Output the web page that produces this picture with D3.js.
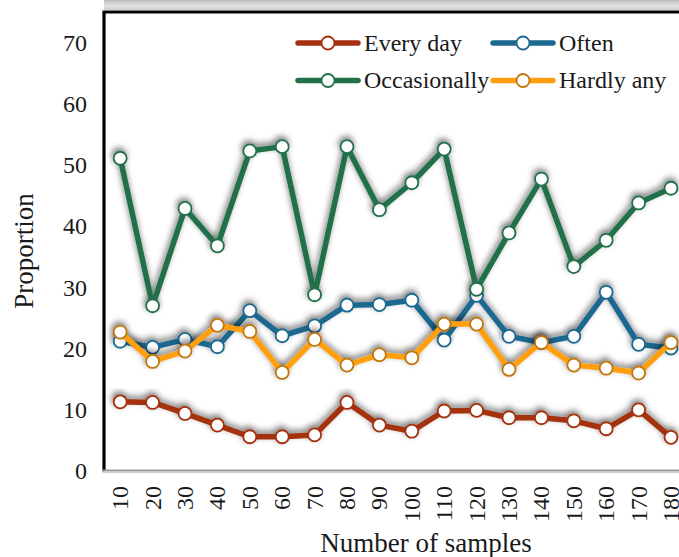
<!DOCTYPE html>
<html>
<head>
<meta charset="utf-8">
<script src="https://cdn.jsdelivr.net/npm/d3@7"></script>
<style>
  html, body { margin: 0; padding: 0; background: #fff; }
  svg { display: block; font-family: "Liberation Serif", "Times New Roman", serif; }
</style>
</head>
<body>
<svg id="chart" width="679" height="557"></svg>
<script>
// Sample sizes on the x axis
const categories = [10, 20, 30, 40, 50, 60, 70, 80, 90, 100, 110, 120, 130, 140, 150, 160, 170, 180];

// Proportion (%) for each usage frequency
const everyDay     = [11.3, 11.2, 9.4, 7.5, 5.6, 5.6, 5.9, 11.2, 7.5, 6.5, 9.8, 9.9, 8.7, 8.7, 8.2, 6.9, 10.0, 5.5];
const often        = [21.2, 20.2, 21.5, 20.3, 26.2, 22.1, 23.7, 27.1, 27.2, 27.9, 21.4, 28.7, 22.0, 21.0, 22.0, 29.2, 20.7, 20.1];
const occasionally = [51.1, 27.0, 42.9, 36.8, 52.3, 53.0, 28.8, 53.0, 42.7, 47.1, 52.6, 29.7, 38.9, 47.7, 33.4, 37.7, 43.8, 46.2];
const hardlyAny    = [22.7, 17.9, 19.6, 23.8, 22.8, 16.1, 21.5, 17.3, 19.0, 18.5, 24.0, 24.0, 16.6, 21.0, 17.3, 16.8, 16.0, 21.0];

const yTicks = [0, 10, 20, 30, 40, 50, 60, 70];

const seriesNames  = ["Every day", "Often", "Occasionally", "Hardly any"];
const seriesValues = [everyDay, often, occasionally, hardlyAny];
const lineColors   = ["#A3300F", "#1C6890", "#22704A", "#FF9F0F"];
const markerColors = ["#A3300F", "#1C6890", "#22704A", "#C0760C"];

const svg = d3.select("#chart");

const plotLeft = 104, plotTop = 12, plotBottom = 471;
const bandStep = 32.4;

const x = d3.scaleBand()
  .domain(categories)
  .range([plotLeft, plotLeft + bandStep * categories.length])
  .paddingInner(0).paddingOuter(0);

const y = d3.scaleLinear().domain([0, 75]).range([plotBottom, plotTop]);

const cx = d => x(d) + x.bandwidth() / 2;

// Filters and gradients
const defs = svg.append("defs");
const shadow = defs.append("filter").attr("id", "shadow")
  .attr("x", "-10%").attr("y", "-15%").attr("width", "120%").attr("height", "130%");
shadow.append("feDropShadow")
  .attr("dx", -1).attr("dy", -3).attr("stdDeviation", 3)
  .attr("flood-color", "#000").attr("flood-opacity", 0.55);

const topGrad = defs.append("linearGradient").attr("id", "topGrad")
  .attr("x1", 0).attr("y1", 0).attr("x2", 0).attr("y2", 1);
topGrad.append("stop").attr("offset", "0%").attr("stop-color", "#bdbdbd");
topGrad.append("stop").attr("offset", "60%").attr("stop-color", "#e2e2e2");
topGrad.append("stop").attr("offset", "100%").attr("stop-color", "#cfcfcf");

// Shading band above the plot frame
svg.append("rect")
  .attr("x", plotLeft).attr("y", 0)
  .attr("width", 679 - plotLeft).attr("height", plotTop - 2)
  .attr("fill", "url(#topGrad)");

// Plot frame
svg.append("line")
  .attr("x1", plotLeft - 1.5).attr("x2", 679)
  .attr("y1", plotTop).attr("y2", plotTop)
  .attr("stroke", "#000").attr("stroke-width", 3);
svg.append("line")
  .attr("x1", plotLeft).attr("x2", plotLeft)
  .attr("y1", plotTop).attr("y2", plotBottom)
  .attr("stroke", "#000").attr("stroke-width", 3.2);
svg.append("line")
  .attr("x1", plotLeft - 1.5).attr("x2", 679)
  .attr("y1", plotBottom).attr("y2", plotBottom)
  .attr("stroke", "#9a9a9a").attr("stroke-width", 3);
svg.append("line")
  .attr("x1", plotLeft).attr("x2", 679)
  .attr("y1", plotBottom + 0.5).attr("y2", plotBottom + 0.5)
  .attr("stroke", "#d8d8d8").attr("stroke-width", 0.8);

// Y axis labels
const yAxis = d3.axisLeft(y).tickValues(yTicks).tickSize(0).tickPadding(17);
const gy = svg.append("g")
  .attr("transform", `translate(${plotLeft},0)`)
  .call(yAxis);
gy.select(".domain").remove();
gy.selectAll("text")
  .attr("font-family", "Liberation Serif")
  .attr("font-size", 24)
  .attr("fill", "#1a1a1a");

// X axis labels (rotated)
const xAxis = d3.axisBottom(x).tickSize(0).tickPadding(0);
const gx = svg.append("g")
  .attr("transform", `translate(0,${plotBottom})`)
  .call(xAxis);
gx.select(".domain").remove();
gx.selectAll("text")
  .attr("font-family", "Liberation Serif")
  .attr("font-size", 24)
  .attr("fill", "#1a1a1a")
  .attr("text-anchor", "end")
  .attr("dy", "0.33em")
  .attr("y", 0)
  .attr("transform", "translate(0,15) rotate(-90)");

// Axis titles
svg.append("text")
  .attr("x", 426).attr("y", 552)
  .attr("text-anchor", "middle")
  .attr("font-size", 27)
  .attr("fill", "#1a1a1a")
  .text("Number of samples");

svg.append("text")
  .attr("transform", "translate(33,251) rotate(-90)")
  .attr("text-anchor", "middle")
  .attr("font-size", 27)
  .attr("fill", "#1a1a1a")
  .text("Proportion");

// Series
const line = d3.line()
  .x((d, i) => cx(categories[i]))
  .y(d => y(d));

const plot = svg.append("g");

seriesValues.forEach((vals, s) => {
  const g = plot.append("g").attr("filter", "url(#shadow)");
  g.append("path")
    .datum(vals)
    .attr("d", line)
    .attr("fill", "none")
    .attr("stroke", lineColors[s])
    .attr("stroke-width", 5.5)
    .attr("stroke-linejoin", "round");
  g.selectAll("circle")
    .data(vals)
    .join("circle")
    .attr("cx", (d, i) => cx(categories[i]))
    .attr("cy", d => y(d))
    .attr("r", 6.5)
    .attr("fill", "#fff")
    .attr("stroke", markerColors[s])
    .attr("stroke-width", 1.8);
});

// Legend
const legendCols = [298, 493];
const legendRows = [43, 80.5];
const legend = svg.append("g");
seriesNames.forEach((name, i) => {
  const lx = legendCols[i % 2], ly = legendRows[Math.floor(i / 2)];
  const item = legend.append("g").attr("transform", `translate(${lx},${ly})`);
  item.append("line")
    .attr("x1", 0).attr("x2", 60)
    .attr("stroke", lineColors[i])
    .attr("stroke-width", 5.5)
    .attr("stroke-linecap", "round");
  item.append("circle")
    .attr("cx", 30).attr("r", 6.5)
    .attr("fill", "#fff")
    .attr("stroke", markerColors[i])
    .attr("stroke-width", 1.8);
  item.append("text")
    .attr("x", 66).attr("dy", "0.33em")
    .attr("font-size", 24)
    .attr("fill", "#1a1a1a")
    .text(name);
});
</script>
</body>
</html>
